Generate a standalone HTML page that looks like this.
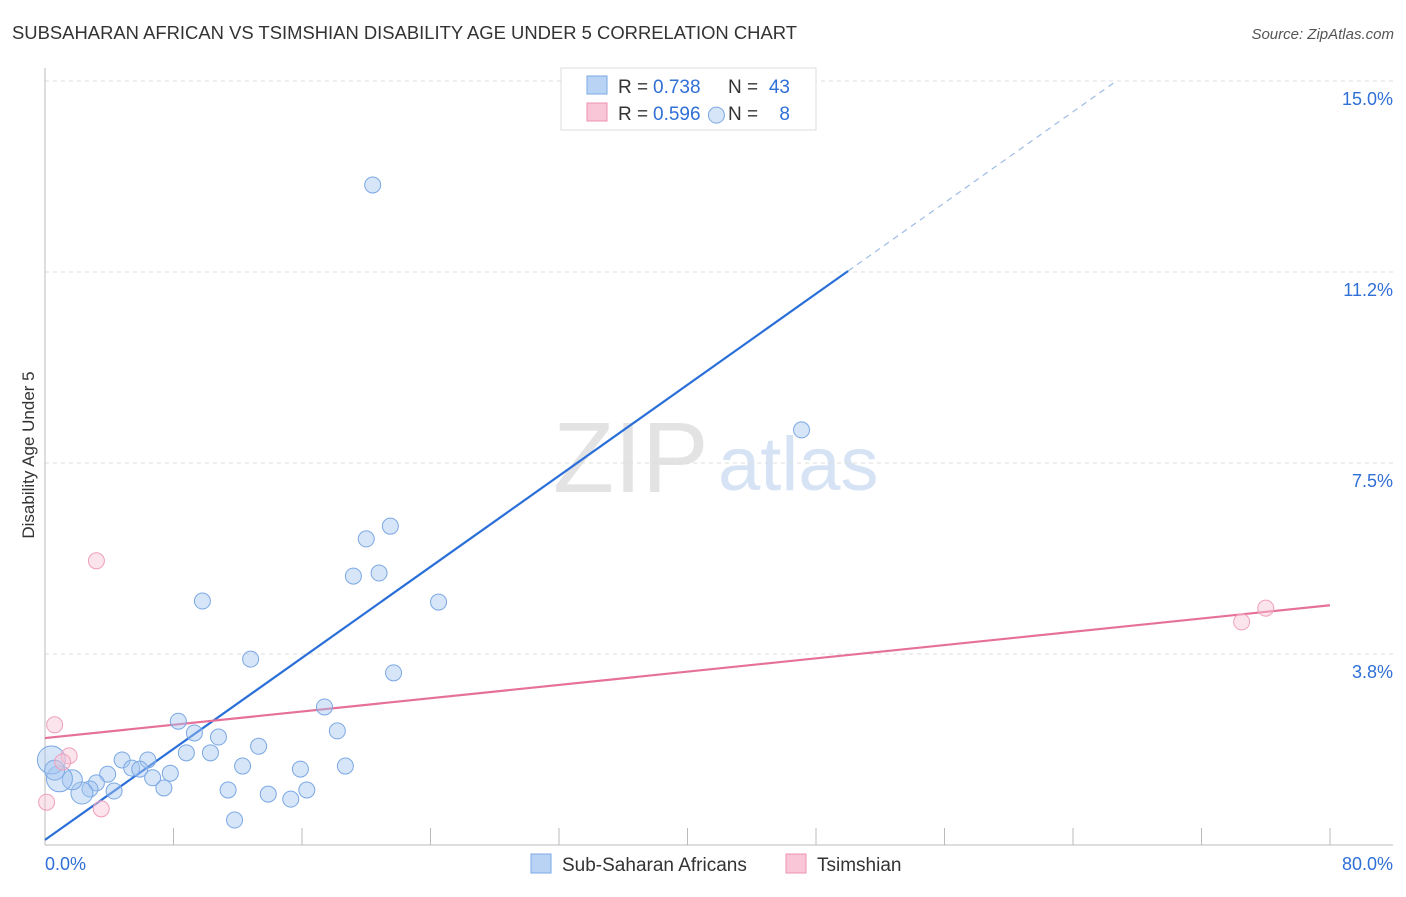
<!DOCTYPE html>
<html><head><meta charset="utf-8"><style>
body{margin:0;background:#fff;font-family:"Liberation Sans",sans-serif;}
svg text{font-family:"Liberation Sans",sans-serif;}
</style></head><body>
<svg id="chart" width="1406" height="892" viewBox="0 0 1406 892">
<text x="12" y="39" font-size="18" fill="#333" textLength="785" lengthAdjust="spacingAndGlyphs">SUBSAHARAN AFRICAN VS TSIMSHIAN DISABILITY AGE UNDER 5 CORRELATION CHART</text>
<text x="1394" y="39" font-size="15" fill="#555" font-style="italic" text-anchor="end">Source: ZipAtlas.com</text>
<text x="0" y="0" transform="translate(34,455) rotate(-90)" font-size="17" fill="#333" text-anchor="middle">Disability Age Under 5</text>
<g><text x="553" y="492" font-size="100" fill="#e3e3e3" font-family="Liberation Serif">ZIP</text><text x="718" y="490" font-size="76" fill="#d6e3f5">atlas</text></g>
<g id="grid"></g><g id="axes"></g><g id="lines"></g>
<g>
<rect x="561" y="68" width="255" height="62" fill="#fff" stroke="#ddd"/>
<rect x="587" y="76" width="20" height="18" fill="#b9d3f5" stroke="#7aa8e6"/>
<text x="618" y="93" font-size="19" fill="#333">R =</text>
<text x="653" y="93" font-size="19" fill="#2f6fd6">0.738</text>
<text x="728" y="93" font-size="19" fill="#333">N =</text>
<text x="790" y="93" font-size="19" fill="#2f6fd6" text-anchor="end">43</text>
<rect x="587" y="103" width="20" height="18" fill="#f8c6d6" stroke="#ee93b2"/>
<text x="618" y="120" font-size="19" fill="#333">R =</text>
<text x="653" y="120" font-size="19" fill="#2f6fd6">0.596</text>
<text x="728" y="120" font-size="19" fill="#333">N =</text>
<text x="790" y="120" font-size="19" fill="#2f6fd6" text-anchor="end">8</text>
</g>
<g id="points"></g>
<g>
<rect x="531" y="854" width="20" height="19" fill="#b9d3f5" stroke="#7aa8e6"/>
<text x="562" y="871" font-size="19" fill="#333">Sub-Saharan Africans</text>
<rect x="786" y="854" width="20" height="19" fill="#f8c6d6" stroke="#ee93b2"/>
<text x="817" y="871" font-size="19" fill="#333">Tsimshian</text>
</g>
</svg>
<script>
const blueX=[20.4,41.8,47.1,21.5,20.0,19.2,20.8,24.5,9.8,12.8,21.7,17.4,18.2,8.3,9.3,10.8,10.3,8.8,13.3,4.8,6.4,5.4,5.9,7.8,6.7,7.4,12.3,15.9,18.7,11.4,13.9,15.3,16.3,11.8,3.9,3.2,4.3,2.8,2.3,1.7,0.9,0.4,0.6];
const blueY=[12.96,14.33,8.15,6.26,6.01,5.28,5.34,4.77,4.79,3.65,3.38,2.71,2.24,2.43,2.20,2.12,1.81,1.81,1.94,1.67,1.67,1.51,1.49,1.41,1.32,1.12,1.55,1.49,1.55,1.08,1.00,0.90,1.08,0.49,1.39,1.22,1.06,1.10,1.02,1.28,1.30,1.67,1.47];
const blueR=[8,8,8,8,8,8,8,8,8,8,8,8,8,8,8,8,8,8,8,8,8,8,8,8,8,8,8,8,8,8,8,8,8,8,8,8,8,8,11,10,13,14,10];
const pinkX=[3.2,0.6,1.5,1.1,0.1,3.5,76.0,74.5];
const pinkY=[5.58,2.36,1.75,1.63,0.84,0.71,4.65,4.38];
const blueFit=[0.1,0.2234];
const pinkFit=[2.10,0.0326];
const yTicks=[3.75,7.5,11.25,15];
const yTickLabels=["3.8%","7.5%","11.2%","15.0%"];
const xTicks=[0,8,16,24,32,40,48,56,64,72,80];
const NS="http://www.w3.org/2000/svg";
const sx=v=>45+v*16.0625, sy=v=>845-v*50.93;
function mk(tag,attrs,parent){const e=document.createElementNS(NS,tag);for(const k in attrs)e.setAttribute(k,attrs[k]);document.getElementById(parent).appendChild(e);return e;}
yTicks.forEach((t,i)=>{
 const g=mk('line',{x1:45,x2:1393,y1:sy(t),y2:sy(t),stroke:'#ddd','stroke-dasharray':'4,4'},'grid');
 
 
 const tx=mk('text',{x:1393,y:sy(t)+24,'font-size':18,fill:'#2f6fd6','text-anchor':'end'},'axes');
 tx.textContent=yTickLabels[i];
 
 
});
const ax=mk('line',{x1:45,x2:1393,y1:845,y2:845,stroke:'#bbb'},'axes');


const ay=mk('line',{x1:45,x2:45,y1:68,y2:845,stroke:'#bbb'},'axes');


xTicks.forEach(t=>{
 const l=mk('line',{x1:sx(t),x2:sx(t),y1:828,y2:845,stroke:'#bbb'},'axes');
 
 
});
const xl0=mk('text',{x:45,y:870,'font-size':18,fill:'#2f6fd6'},'axes');xl0.textContent=xTicks[0].toFixed(1)+'%';


const xl1=mk('text',{x:1393,y:870,'font-size':18,fill:'#2f6fd6','text-anchor':'end'},'axes');xl1.textContent=xTicks[xTicks.length-1].toFixed(1)+'%';


blueX.forEach((x,i)=>{
 const c=mk('circle',{cx:sx(x),cy:sy(blueY[i]),r:blueR[i],fill:'rgba(165,198,240,0.45)',stroke:'#7ba8e4','stroke-width':1},'points');
 
 
});
pinkX.forEach((x,i)=>{
 const c=mk('circle',{cx:sx(x),cy:sy(pinkY[i]),r:8,fill:'rgba(248,195,212,0.45)',stroke:'#eea0bc','stroke-width':1},'points');
 
 
});
const bEnd=50, bDashEnd=(15-blueFit[0])/blueFit[1];
const bl=mk('line',{x1:sx(0),y1:sy(blueFit[0]),x2:sx(bEnd),y2:sy(blueFit[0]+blueFit[1]*bEnd),stroke:'#2a6fd8','stroke-width':2.2},'lines');


const bd=mk('line',{x1:sx(bEnd),y1:sy(blueFit[0]+blueFit[1]*bEnd),x2:sx(bDashEnd),y2:sy(15),stroke:'#9dbbe6','stroke-width':1.2,'stroke-dasharray':'6,5'},'lines');


const pl=mk('line',{x1:sx(0),y1:sy(pinkFit[0]),x2:sx(80),y2:sy(pinkFit[0]+pinkFit[1]*80),stroke:'#e5709a','stroke-width':2.2},'lines');


</script>
</body></html>
